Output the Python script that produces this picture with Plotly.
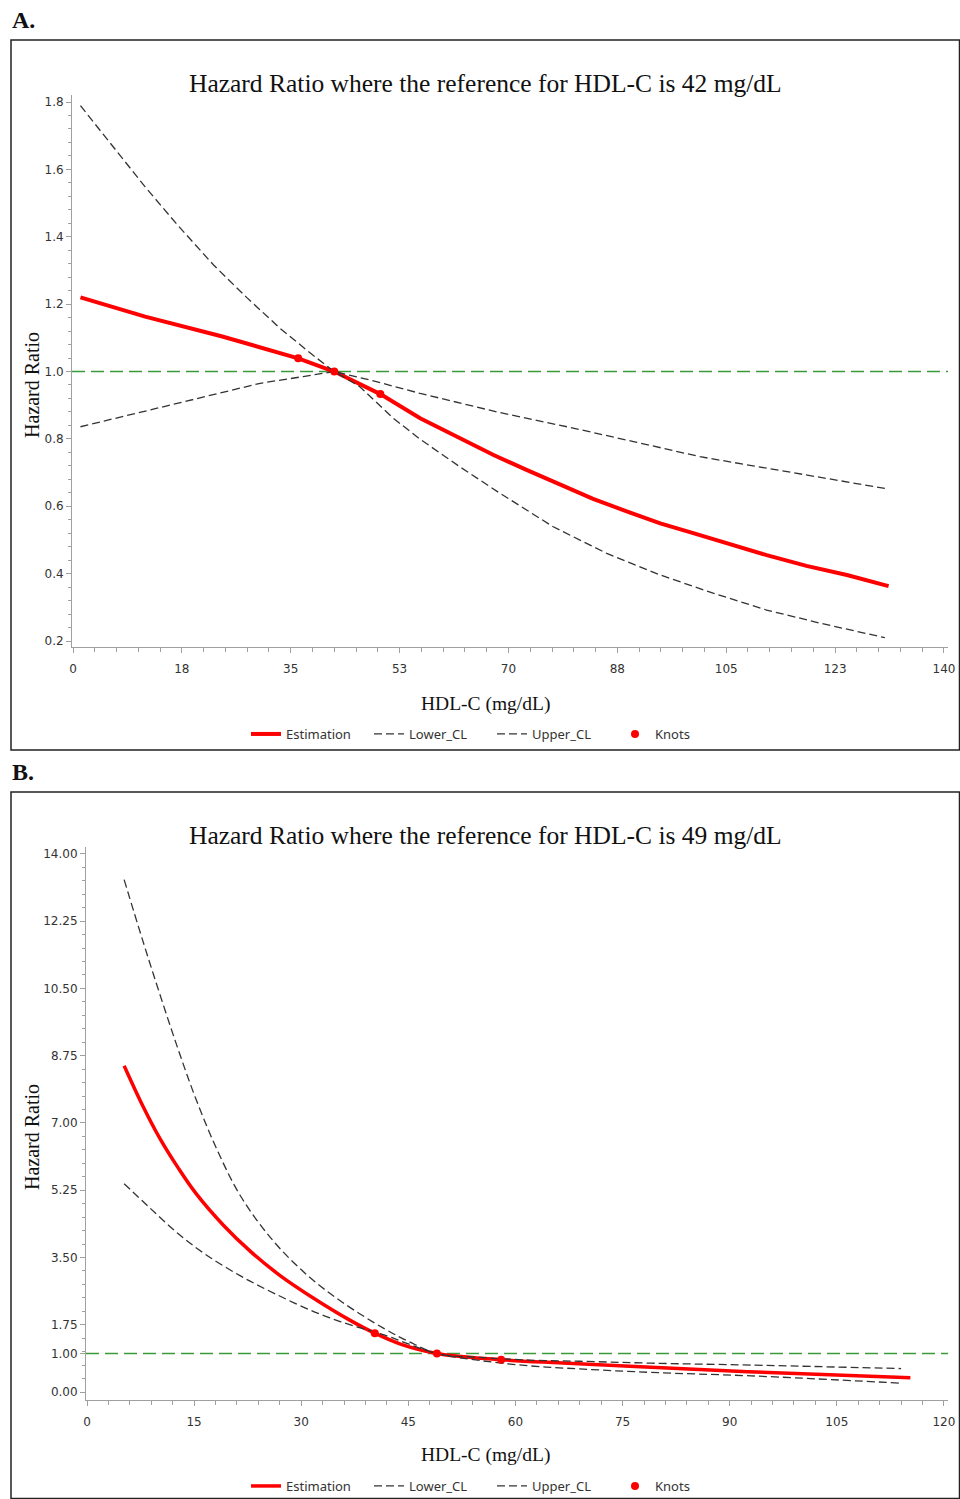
import plotly.graph_objects as go

W, H = 960, 1499

# ---------------- Panel A data (reference HDL-C = 42 mg/dL) ----------------
a_est_x = [1.2, 11.6, 24.0, 36.2, 42.0, 49.4, 55.8, 62.2, 67.6, 72.9, 78.3, 83.6, 89.0, 94.4, 99.7, 105.1, 111.5, 117.9, 124.4, 131.1]
a_est_y = [1.220, 1.163, 1.104, 1.039, 1.000, 0.933, 0.861, 0.802, 0.752, 0.708, 0.663, 0.622, 0.585, 0.549, 0.520, 0.490, 0.455, 0.423, 0.396, 0.363]

a_low_x = [1.2, 11.3, 20.9, 30.1, 37.0, 42.0, 46.1, 51.5, 55.8, 62.2, 68.6, 77.2, 85.8, 94.4, 102.9, 111.5, 120.1, 130.5]
a_low_y = [0.836, 0.881, 0.925, 0.965, 0.985, 1.000, 0.955, 0.861, 0.799, 0.717, 0.639, 0.539, 0.460, 0.396, 0.342, 0.292, 0.253, 0.210]

a_up_x = [1.2, 7.6, 11.6, 16.7, 22.6, 27.9, 33.3, 38.6, 42.0, 47.7, 55.8, 68.6, 79.4, 90.1, 100.8, 111.5, 122.2, 130.5]
a_up_y = [1.789, 1.640, 1.548, 1.437, 1.316, 1.220, 1.128, 1.048, 1.000, 0.975, 0.935, 0.878, 0.836, 0.792, 0.747, 0.713, 0.678, 0.653]

a_knot_x = [36.2, 42.0, 49.4]
a_knot_y = [1.039, 1.000, 0.933]

a_xtick_vals = [0, 17.5, 35, 52.5, 70, 87.5, 105, 122.5, 140]
a_xtick_text = ["0", "18", "35", "53", "70", "88", "105", "123", "140"]
a_ytick_vals = [0.2, 0.4, 0.6, 0.8, 1.0, 1.2, 1.4, 1.6, 1.8]
a_ytick_text = ["0.2", "0.4", "0.6", "0.8", "1.0", "1.2", "1.4", "1.6", "1.8"]

# ---------------- Panel B data (reference HDL-C = 49 mg/dL) ----------------
b_est_x = [5.2, 7.8, 10.2, 12.7, 15.2, 19.1, 23.0, 26.9, 31.9, 36.8, 40.3, 44.0, 49.0, 52.0, 58.0, 66.0, 76.0, 92.5, 115.3]
b_est_y = [8.49, 7.45, 6.60, 5.85, 5.18, 4.34, 3.64, 3.05, 2.42, 1.87, 1.53, 1.24, 1.00, 0.93, 0.84, 0.76, 0.67, 0.53, 0.37]

b_low_x = [5.2, 8.8, 12.7, 16.6, 21.5, 26.4, 31.9, 36.8, 41.7, 45.0, 49.0, 55.0, 62.0, 69.0, 79.0, 93.0, 114.0]
b_low_y = [5.42, 4.79, 4.13, 3.58, 3.02, 2.55, 2.08, 1.75, 1.48, 1.25, 1.00, 0.82, 0.68, 0.60, 0.51, 0.42, 0.23]

b_up_x = [5.2, 7.8, 10.2, 12.7, 15.2, 18.1, 21.5, 26.0, 30.9, 35.8, 41.7, 45.0, 49.0, 55.0, 62.0, 69.0, 79.0, 93.0, 114.0]
b_up_y = [13.33, 11.75, 10.35, 8.95, 7.65, 6.35, 5.10, 3.95, 3.03, 2.33, 1.64, 1.32, 1.00, 0.90, 0.83, 0.80, 0.75, 0.70, 0.61]

b_knot_x = [40.3, 49.0, 58.0]
b_knot_y = [1.53, 1.00, 0.84]

b_xtick_vals = [0, 15, 30, 45, 60, 75, 90, 105, 120]
b_xtick_text = ["0", "15", "30", "45", "60", "75", "90", "105", "120"]
b_ytick_vals = [0.0, 1.0, 1.75, 3.5, 5.25, 7.0, 8.75, 10.5, 12.25, 14.0]
b_ytick_text = ["0.00", "1.00", "1.75", "3.50", "5.25", "7.00", "8.75", "10.50", "12.25", "14.00"]

series_names = ["Estimation", "Lower_CL", "Upper_CL", "Knots"]

# ---------------- styling ----------------
RED = "#ff0000"
CLC = "#333333"
GREEN = "#389a38"
AXIS = "#a0a0a0"
TICKFONT = dict(family="DejaVu Sans", size=12, color="#333333")
SERIF = "Liberation Serif"

def py(p):
    return 1 - p / H

def px(p):
    return p / W

fig = go.Figure()

def add_panel(est_x, est_y, low_x, low_y, up_x, up_y, kx, ky, xa, ya, leg, shape, est_w):
    fig.add_trace(go.Scatter(x=est_x, y=est_y, mode="lines", name=series_names[0],
                             line=dict(color=RED, width=est_w, shape=shape),
                             xaxis=xa, yaxis=ya, legend=leg))
    fig.add_trace(go.Scatter(x=low_x, y=low_y, mode="lines", name=series_names[1],
                             line=dict(color=CLC, width=1.3, dash="8px,4px", shape=shape),
                             xaxis=xa, yaxis=ya, legend=leg))
    fig.add_trace(go.Scatter(x=up_x, y=up_y, mode="lines", name=series_names[2],
                             line=dict(color=CLC, width=1.3, dash="8px,4px", shape=shape),
                             xaxis=xa, yaxis=ya, legend=leg))
    fig.add_trace(go.Scatter(x=kx, y=ky, mode="markers", name=series_names[3],
                             marker=dict(color=RED, size=8),
                             xaxis=xa, yaxis=ya, legend=leg))

add_panel(a_est_x, a_est_y, a_low_x, a_low_y, a_up_x, a_up_y, a_knot_x, a_knot_y,
          "x", "y", "legend", "linear", 4)
add_panel(b_est_x, b_est_y, b_low_x, b_low_y, b_up_x, b_up_y, b_knot_x, b_knot_y,
          "x2", "y2", "legend2", "spline", 3.5)

def axis_common():
    return dict(showline=True, linecolor=AXIS, linewidth=1, ticks="outside", ticklen=5,
                tickcolor=AXIS, tickwidth=1, showgrid=False, zeroline=False,
                tickfont=TICKFONT, tickmode="array")

xa = axis_common()
xa.update(domain=[px(72), px(948)], range=[-0.16, 140.65], anchor="y",
          tickvals=a_xtick_vals, ticktext=a_xtick_text, ticklabelstandoff=6,
          minor=dict(tickmode="linear", tick0=0, dtick=3.5, ticks="outside", ticklen=4,
                     tickcolor=AXIS, showgrid=False))
ya = axis_common()
ya.update(domain=[py(647), py(95)], range=[0.1822, 1.8208], anchor="x",
          tickvals=a_ytick_vals, ticktext=a_ytick_text,
          minor=dict(tickmode="linear", tick0=0.2, dtick=0.04, ticks="outside", ticklen=3,
                     tickcolor=AXIS, showgrid=False))
xb = axis_common()
xb.update(domain=[px(86), px(948)], range=[-0.14, 120.57], anchor="y2",
          tickvals=b_xtick_vals, ticktext=b_xtick_text, ticklabelstandoff=6,
          minor=dict(tickmode="linear", tick0=0, dtick=3, ticks="outside", ticklen=4,
                     tickcolor=AXIS, showgrid=False))
yb = axis_common()
yb.update(domain=[py(1400), py(847)], range=[-0.208, 14.18], anchor="x2",
          tickvals=b_ytick_vals, ticktext=b_ytick_text,
          minor=dict(tickmode="linear", tick0=0, dtick=0.35, ticks="outside", ticklen=3,
                     tickcolor=AXIS, showgrid=False))

shapes = [
    dict(type="line", xref="x domain", yref="y", x0=0, x1=1, y0=1, y1=1, layer="below",
         line=dict(color=GREEN, width=1.5, dash="13px,6px")),
    dict(type="line", xref="x2 domain", yref="y2", x0=0, x1=1, y0=1, y1=1, layer="below",
         line=dict(color=GREEN, width=1.5, dash="13px,6px")),
    dict(type="rect", xref="paper", yref="paper", x0=px(11), x1=px(959.5), y0=py(750), y1=py(40),
         line=dict(color="#222222", width=1.5)),
    dict(type="rect", xref="paper", yref="paper", x0=px(11), x1=px(959.5), y0=py(1498.5), y1=py(792),
         line=dict(color="#222222", width=1.5)),
]

def ann(text, x, y, size, angle=0, bold=False, xanchor="center"):
    return dict(text=("<b>%s</b>" % text) if bold else text, x=px(x), y=py(y),
                xref="paper", yref="paper", showarrow=False, textangle=angle,
                xanchor=xanchor, yanchor="middle",
                font=dict(family=SERIF, size=size, color="#111111"))

annotations = [
    ann("A.", 10, 20, 24, bold=True, xanchor="left"),
    ann("B.", 10, 772, 24, bold=True, xanchor="left"),
    ann("Hazard Ratio where the reference for HDL-C is 42 mg/dL", 485, 84, 25.5),
    ann("Hazard Ratio where the reference for HDL-C is 49 mg/dL", 485, 836, 25.5),
    ann("Hazard Ratio", 32, 385, 20, angle=-90),
    ann("Hazard Ratio", 32, 1137, 20, angle=-90),
    ann("HDL-C (mg/dL)", 485, 704, 19.5),
    ann("HDL-C (mg/dL)", 485, 1455, 19.5),
]

legend_common = dict(orientation="h", xanchor="center", yanchor="middle",
                     font=dict(family="Noto Sans", size=13, color="#333333"),
                     bgcolor="rgba(0,0,0,0)", itemwidth=30, tracegroupgap=0,
                     entrywidth=78)

fig.update_layout(
    width=W, height=H,
    margin=dict(l=0, r=0, t=0, b=0, autoexpand=False),
    paper_bgcolor="white", plot_bgcolor="white",
    xaxis=xa, yaxis=ya, xaxis2=xb, yaxis2=yb,
    shapes=shapes, annotations=annotations,
    legend=dict(legend_common, x=px(492), y=py(734)),
    legend2=dict(legend_common, x=px(492), y=py(1486)),
    showlegend=True,
)

fig.write_html("out.html", config={"displayModeBar": False},
               post_script="document.body.style.margin='0px';document.body.style.overflow='hidden';")
